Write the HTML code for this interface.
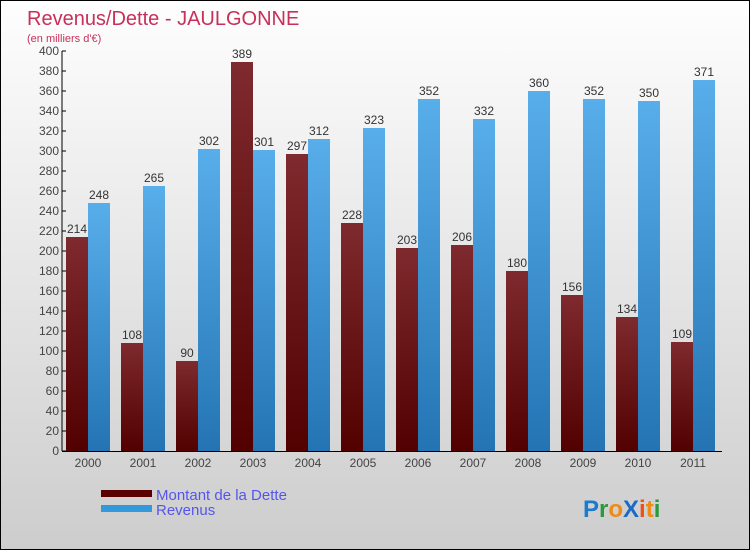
<!DOCTYPE html>
<html><head><meta charset="utf-8"><style>
body{margin:0}
#c{width:750px;height:550px;position:relative;overflow:hidden;box-sizing:border-box;border:1px solid #000;background:linear-gradient(#fefefe,#cdcdcd);font-family:"Liberation Sans","DejaVu Sans",sans-serif}
svg{position:absolute;left:0;top:0}
</style></head><body>
<div id="c">
<svg id="s" width="750" height="550">
<defs>
<linearGradient id="gd" x1="0" y1="0" x2="0" y2="1"><stop offset="0" stop-color="#7e2a2e"/><stop offset="1" stop-color="#520000"/></linearGradient>
<linearGradient id="gr" x1="0" y1="0" x2="0" y2="1"><stop offset="0" stop-color="#58aeea"/><stop offset="1" stop-color="#2474b4"/></linearGradient>
</defs>
<text x="26" y="24" font-size="20" fill="#c8305a">Revenus/Dette - JAULGONNE</text>
<text x="26" y="41" font-size="11" fill="#c8305a">(en milliers d'€)</text>
<g id="grid"></g><g id="bars"></g><g id="ax"></g>
<rect x="100" y="489" width="51" height="7" fill="#5a0000"/>
<rect x="100" y="504" width="51" height="7" fill="#3399dd"/>
<text x="155" y="499" font-size="15" fill="#5555ee">Montant de la Dette</text>
<text x="155" y="514" font-size="15" fill="#5555ee">Revenus</text>
<g font-size="24" font-weight="bold" font-family="Liberation Sans,sans-serif">
<text x="582" y="516"><tspan fill="#1a7ad0">P</tspan><tspan fill="#2a9a3a">r</tspan><tspan fill="#f08a10">o</tspan><tspan fill="#1a6ac8">X</tspan><tspan fill="#f05010">i</tspan><tspan fill="#f08a10">t</tspan><tspan fill="#2a9a3a">i</tspan></text>
</g>
</svg>
</div>
<script>
const years=["2000","2001","2002","2003","2004","2005","2006","2007","2008","2009","2010","2011"];
const dette=[214,108,90,389,297,228,203,206,180,156,134,109];
const revenus=[248,265,302,301,312,323,352,332,360,352,350,371];
const yTicks=[0,20,40,60,80,100,120,140,160,180,200,220,240,260,280,300,320,340,360,380,400];
const NS="http://www.w3.org/2000/svg";
const x0=61,cw=55,y0=450,ymax=400,ph=400;
const Y=v=>y0-v/ymax*ph;
const X=i=>x0+i*cw;
function mk(t,a,p){const e=document.createElementNS(NS,t);for(const k in a)e.setAttribute(k,a[k]);p.appendChild(e);return e;}
const ax=document.getElementById('ax'),bars=document.getElementById('bars');
let l=mk('line',{x1:x0,y1:Y(400),x2:x0,y2:y0,stroke:'#000'},ax);


l=mk('line',{x1:x0,y1:y0+0.5,x2:x0+12*cw,y2:y0+0.5,stroke:'#000'},ax);


yTicks.forEach(v=>{
 mk('line',{x1:x0,y1:Y(v),x2:x0+4,y2:Y(v),stroke:'#000'},ax);
 const t=mk('text',{x:x0-3,y:Y(v)+4,'font-size':12,fill:'#444','text-anchor':'end'},ax);
 t.textContent=v;
 
 
});
years.forEach((yr,i)=>{
 const gx=X(i);
 const t=mk('text',{x:gx+26,y:y0+16,'font-size':12,fill:'#444','text-anchor':'middle'},ax);
 t.textContent=yr;
 
 
 [[dette[i],'url(#gd)',4,'bar-dette'],[revenus[i],'url(#gr)',26,'bar-revenus']].forEach(([v,f,o,n])=>{
  const r=mk('rect',{x:gx+o,y:Y(v),width:22,height:y0-Y(v),fill:f},bars);
  
  
  const lb=mk('text',{x:gx+o+11,y:Y(v)-4,'font-size':12,fill:'#333','text-anchor':'middle'},bars);
  lb.textContent=v;
  
  
 });
});
</script>
</body></html>
